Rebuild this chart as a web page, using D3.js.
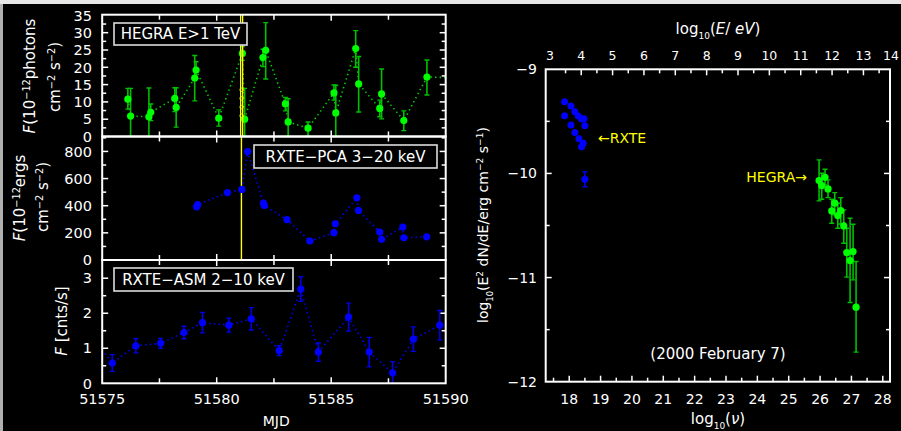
<!DOCTYPE html>
<html><head><meta charset="utf-8">
<script src="https://cdn.jsdelivr.net/npm/d3@7"></script>
<style>
html,body{margin:0;padding:0;background:#000;}
svg{display:block;}
text{font-family:"DejaVu Sans",sans-serif;fill:#fff;}
</style></head>
<body>
<script>
// ---------------- DATA ----------------
const mjdTicks = [51575, 51580, 51585, 51590];
// HEGRA E>1 TeV light curve
const hegraMJD = [51576.12, 51576.24, 51577.04, 51577.12, 51578.17, 51578.23, 51579.04, 51579.10, 51580.09, 51581.12, 51581.22, 51582.02, 51582.14, 51583.00, 51583.12, 51583.99, 51585.12, 51585.20, 51586.07, 51586.20, 51587.12, 51587.20, 51588.17, 51589.18, 51590.40];
const hegraF   = [10.8, 5.9, 5.7, 7.0, 11.0, 8.4, 16.9, 19.2, 5.3, 24.0, 5.0, 22.8, 24.9, 9.4, 4.2, 2.4, 12.6, 6.8, 25.4, 15.2, 8.1, 12.3, 4.6, 17.2, 17.0];
const hegraLo  = [7.9, 0, 0, 4.6, 7.2, 2.7, 10.3, 16.8, 3.0, 22.0, 0, 20.2, 16.6, 7.4, 0, 0.1, 10.5, 0, 20.0, 7.1, 5.7, 5.1, 1.7, 12.0, 14.0];
const hegraHi  = [13.9, 13.9, 14.0, 9.4, 14.1, 14.1, 23.4, 21.6, 7.7, 26.0, 13.9, 25.2, 32.9, 11.3, 10.9, 4.2, 14.9, 14.8, 30.6, 23.1, 10.5, 19.5, 7.4, 22.1, 20.0];
const hegraYTicks = [0, 5, 10, 15, 20, 25, 30, 35];
// RXTE-PCA 3-20 keV light curve
const pcaMJD = [51579.12, 51579.17, 51580.47, 51581.10, 51581.35, 51582.04, 51582.08, 51583.07, 51584.07, 51585.12, 51585.18, 51586.12, 51586.19, 51587.12, 51587.20, 51588.13, 51588.17, 51589.17];
const pcaF   = [392, 408, 497, 520, 799, 419, 402, 297, 140, 201, 267, 458, 365, 206, 152, 243, 164, 171];
const pcaYTicks = [0, 200, 400, 600, 800];
// RXTE-ASM 2-10 keV light curve
const asmMJD = [51574.50, 51575.44, 51576.47, 51577.55, 51578.57, 51579.38, 51580.53, 51581.51, 51582.73, 51583.67, 51584.44, 51585.76, 51586.66, 51587.68, 51588.59, 51589.74];
const asmF   = [1.37, 0.58, 1.07, 1.14, 1.45, 1.73, 1.66, 1.84, 0.93, 2.69, 0.89, 1.89, 0.89, 0.30, 1.26, 1.66];
const asmErr = [0.20, 0.24, 0.20, 0.14, 0.18, 0.29, 0.20, 0.32, 0.14, 0.35, 0.26, 0.40, 0.42, 0.32, 0.35, 0.42];
const asmYTicks = [0, 1, 2, 3];
// flare marker (MJD)
const flareMJD = 51581.08;
// Spectral energy distribution (2000 February 7)
const rxteNu   = [17.853, 18.054, 18.180, 18.287, 18.395, 18.470, 17.853, 18.054, 18.180, 18.310, 18.395, 18.447, 18.500, 18.500];
const rxteSed  = [-9.311, -9.352, -9.407, -9.448, -9.477, -9.474, -9.445, -9.535, -9.608, -9.666, -9.743, -9.710, -9.541, -10.056];
const rxteSedErr = [0, 0, 0, 0, 0, 0, 0, 0, 0, 0, 0, 0, 0, 0.072];
const hegraNu  = [25.968, 26.053, 26.158, 26.254, 26.372, 26.468, 26.564, 26.660, 26.755, 26.851, 26.957, 27.052, 27.148];
const hegraSed = [-10.069, -10.117, -10.037, -10.149, -10.360, -10.286, -10.405, -10.357, -10.504, -10.760, -10.837, -10.750, -11.284];
const hegraSedLo = [-10.264, -10.248, -10.110, -10.232, -10.478, -10.398, -10.526, -10.485, -10.670, -10.996, -11.240, -11.022, -11.716];
const hegraSedHi = [-9.870, -9.998, -9.960, -10.062, -10.248, -10.184, -10.286, -10.232, -10.350, -10.526, -10.430, -10.488, -10.846];
const nuTicks = [18, 19, 20, 21, 22, 23, 24, 25, 26, 27, 28];
const eTicks  = [3, 4, 5, 6, 7, 8, 9, 10, 11, 12, 13, 14];
const sedYTicks = [-9, -10, -11, -12];
const logH = 14.383; // log10(nu) - log10(E/eV)

// ---------------- COLOURS ----------------
const GREEN = "#00ff00", GREEN_ERR = "#00c000", GREEN_LINE = "#00d000";
const BLUE = "#0000ff", BLUE_ERR = "#0000e6";
const YELLOW = "#ffff00";

const W = 901, H = 431;
const svg = d3.select("body").append("svg").attr("width", W).attr("height", H);
svg.append("rect").attr("width", W).attr("height", H).attr("fill", "#000");
svg.append("rect").attr("x", 0).attr("y", 0).attr("width", W).attr("height", 4).attr("fill", "#e6e6e6");
svg.append("rect").attr("x", 0).attr("y", 4).attr("width", 3).attr("height", H - 4).attr("fill", "#b0b0b0");

const defs = svg.append("defs");

// ---------------- LEFT PANELS ----------------
const LX0 = 102.2, LX1 = 445.7;
const xM = d3.scaleLinear().domain([51575, 51590]).range([LX0, LX1]);
const mjdMinor = d3.range(51575, 51590.01, 2.5);

const panels = [
  {id: "p1", y0: 14.7, y1: 136.5, dom: [0, 35.2], major: hegraYTicks, minorStep: 2.5},
  {id: "p2", y0: 136.5, y1: 260, dom: [0, 910], major: pcaYTicks, minorStep: 100},
  {id: "p3", y0: 260, y1: 383.3, dom: [0, 3.52], major: asmYTicks, minorStep: 0.5}
];
panels.forEach(p => {
  p.y = d3.scaleLinear().domain(p.dom).range([p.y1, p.y0]);
  defs.append("clipPath").attr("id", "clip-" + p.id).append("rect")
    .attr("x", LX0).attr("y", p.y0).attr("width", LX1 - LX0).attr("height", p.y1 - p.y0);
});

function drawPanelAxes(p, showX) {
  const g = svg.append("g");
  const minor = d3.range(p.dom[0], p.dom[1] + 1e-9, p.minorStep);
  minor.forEach(v => {
    const isMaj = p.major.some(m => Math.abs(m - v) < 1e-9);
    const L = isMaj ? 6 : 4;
    const yy = p.y(v);
    if (yy < p.y0 + 1 || yy > p.y1 - 1) return;
    g.append("line").attr("x1", LX0).attr("x2", LX0 + L).attr("y1", yy).attr("y2", yy).attr("stroke", "#fff").attr("stroke-width", 1.5);
    g.append("line").attr("x1", LX1).attr("x2", LX1 - L).attr("y1", yy).attr("y2", yy).attr("stroke", "#fff").attr("stroke-width", 1.5);
  });
  mjdMinor.forEach(v => {
    const xx = xM(v);
    if (xx < LX0 + 1 || xx > LX1 - 1) return;
    const L = (v % 5 === 0) ? 6 : 5;
    g.append("line").attr("x1", xx).attr("x2", xx).attr("y1", p.y0).attr("y2", p.y0 + L).attr("stroke", "#fff").attr("stroke-width", 1.5);
    g.append("line").attr("x1", xx).attr("x2", xx).attr("y1", p.y1).attr("y2", p.y1 - L).attr("stroke", "#fff").attr("stroke-width", 1.5);
  });
  p.major.forEach(v => {
    g.append("text").attr("x", 92).attr("y", p.y(v)).attr("dy", "0.36em")
      .attr("text-anchor", "end").attr("font-size", 14.5).text(v);
  });
  if (showX) {
    mjdTicks.forEach(v => {
      g.append("text").attr("x", xM(v)).attr("y", 404).attr("text-anchor", "middle")
        .attr("font-size", 14.5).text(v);
    });
  }
}
panels.forEach((p, i) => drawPanelAxes(p, i === 2));

function legendBox(x, y, w, h, label) {
  const g = svg.append("g");
  g.append("rect").attr("x", x).attr("y", y).attr("width", w).attr("height", h)
    .attr("fill", "#000").attr("stroke", "#ddd").attr("stroke-width", 1.6);
  g.append("text").attr("x", x + w / 2).attr("y", y + h / 2).attr("dy", "0.36em")
    .attr("text-anchor", "middle").attr("font-size", 15).text(label);
}

function errBars(g, xs, lo, hi, col, yScale, xScale, cap) {
  xs.forEach((xv, i) => {
    if (hi[i] === lo[i]) return;
    const X = xScale(xv), Y1 = yScale(lo[i]), Y2 = yScale(hi[i]);
    g.append("line").attr("x1", X).attr("x2", X).attr("y1", Y1).attr("y2", Y2).attr("stroke", col).attr("stroke-width", 1.6);
    g.append("line").attr("x1", X - cap).attr("x2", X + cap).attr("y1", Y1).attr("y2", Y1).attr("stroke", col).attr("stroke-width", 1.4);
    g.append("line").attr("x1", X - cap).attr("x2", X + cap).attr("y1", Y2).attr("y2", Y2).attr("stroke", col).attr("stroke-width", 1.4);
  });
}

function dotted(g, xs, ys, col, xScale, yScale) {
  const line = d3.line().x(d => xScale(d[0])).y(d => yScale(d[1]));
  g.append("path").attr("d", line(xs.map((x, i) => [x, ys[i]])))
    .attr("fill", "none").attr("stroke", col).attr("stroke-width", 1.6)
    .attr("stroke-dasharray", "1.4,3.2").attr("stroke-linecap", "butt");
}
function points(g, xs, ys, col, xScale, yScale, r) {
  g.selectAll(null).data(xs.map((x, i) => [x, ys[i]])).enter().append("circle")
    .attr("cx", d => xScale(d[0])).attr("cy", d => yScale(d[1])).attr("r", r).attr("fill", col);
}

// panel 1: HEGRA
{
  const p = panels[0];
  const g = svg.append("g").attr("clip-path", "url(#clip-p1)");
  dotted(g, hegraMJD, hegraF, GREEN_LINE, xM, p.y);
  errBars(g, hegraMJD, hegraLo, hegraHi, GREEN_ERR, p.y, xM, 2.5);
  points(g, hegraMJD, hegraF, GREEN, xM, p.y, 3.6);
  // flare marker
  g.append("line").attr("x1", xM(flareMJD) - 0.8).attr("x2", xM(flareMJD) - 0.8).attr("y1", p.y0).attr("y2", p.y1).attr("stroke", YELLOW).attr("stroke-width", 1.3);
  g.append("line").attr("x1", xM(flareMJD) + 1.2).attr("x2", xM(flareMJD) + 1.2).attr("y1", p.y0).attr("y2", p.y1).attr("stroke", YELLOW).attr("stroke-width", 1.3);
  [6, 8.5, 11, 13.5].forEach(fr => {
    g.append("circle").attr("cx", xM(flareMJD) + 0.2).attr("cy", p.y(fr)).attr("r", 1.8)
      .attr("fill", "none").attr("stroke", YELLOW).attr("stroke-width", 0.8);
  });
  legendBox(114, 23, 133, 22, "HEGRA E>1 TeV");
}
// panel 2: PCA
{
  const p = panels[1];
  const g = svg.append("g").attr("clip-path", "url(#clip-p2)");
  g.append("line").attr("x1", xM(flareMJD)).attr("x2", xM(flareMJD)).attr("y1", p.y0).attr("y2", p.y1).attr("stroke", YELLOW).attr("stroke-width", 1.4);
  dotted(g, pcaMJD, pcaF, BLUE, xM, p.y);
  points(g, pcaMJD, pcaF, BLUE, xM, p.y, 3.6);
  legendBox(254, 145, 183, 23, "RXTE\u2212PCA 3\u221220 keV");
}
// panel 3: ASM
{
  const p = panels[2];
  const g = svg.append("g").attr("clip-path", "url(#clip-p3)");
  dotted(g, asmMJD, asmF, BLUE, xM, p.y);
  errBars(g, asmMJD, asmF.map((v, i) => v - asmErr[i]), asmF.map((v, i) => v + asmErr[i]), BLUE_ERR, p.y, xM, 2.5);
  points(g, asmMJD, asmF, BLUE, xM, p.y, 3.6);
  legendBox(114, 268, 179, 23, "RXTE\u2212ASM 2\u221210 keV");
}
// frames
panels.forEach(p => {
  svg.append("rect").attr("x", LX0).attr("y", p.y0).attr("width", LX1 - LX0).attr("height", p.y1 - p.y0)
    .attr("fill", "none").attr("stroke", "#fff").attr("stroke-width", 2);
});

// left axis titles
function rotText(x, y, size) {
  return svg.append("text").attr("transform", `translate(${x},${y}) rotate(-90)`)
    .attr("text-anchor", "middle").attr("font-size", size);
}
function sup(t, s) { t.append("tspan").attr("baseline-shift", "super").attr("font-size", "0.65em").text(s); }
{
  let t = rotText(35, 76, 15);
  t.append("tspan").attr("font-style", "italic").text("F");
  t.append("tspan").text("(10");
  sup(t, "\u221212");
  t.append("tspan").text("photons");
  t = rotText(60, 77, 15);
  t.append("tspan").text("cm");
  sup(t, "\u22122");
  t.append("tspan").text(" s");
  sup(t, "\u22122");
  t.append("tspan").text(")");

  t = rotText(25, 198, 15);
  t.append("tspan").attr("font-style", "italic").text("F");
  t.append("tspan").text("(10");
  sup(t, "\u221212");
  t.append("tspan").text("ergs");
  t = rotText(48, 197, 15);
  t.append("tspan").text("cm");
  sup(t, "\u22122");
  t.append("tspan").text(" s");
  sup(t, "\u22122");
  t.append("tspan").text(")");

  t = rotText(67, 321, 15);
  t.append("tspan").attr("font-style", "italic").text("F");
  t.append("tspan").text(" [cnts/s]");
}
svg.append("text").attr("x", xM(51582.6)).attr("y", 426).attr("text-anchor", "middle").attr("font-size", 14).text("MJD");

// ---------------- RIGHT PANEL ----------------
const RX0 = 545.7, RX1 = 890, RY0 = 69.3, RY1 = 381.7;
const xNu = d3.scaleLinear().domain([17.25, 28.23]).range([RX0, RX1]);
const xE = d3.scaleLinear().domain([17.25 - logH, 28.23 - logH]).range([RX0, RX1]);
const ySed = d3.scaleLinear().domain([-12, -9]).range([RY1, RY0]);
defs.append("clipPath").attr("id", "clip-sed").append("rect")
  .attr("x", RX0).attr("y", RY0).attr("width", RX1 - RX0).attr("height", RY1 - RY0);

{
  const g = svg.append("g");
  d3.range(17.5, 28.01, 0.5).forEach(v => {
    const X = xNu(v); const L = Number.isInteger(v) ? 6 : 4;
    g.append("line").attr("x1", X).attr("x2", X).attr("y1", RY1).attr("y2", RY1 - L).attr("stroke", "#fff").attr("stroke-width", 1.5);
  });
  d3.range(3.5, 13.51, 0.5).forEach(v => {
    const X = xE(v); const L = Number.isInteger(v) ? 6 : 4;
    g.append("line").attr("x1", X).attr("x2", X).attr("y1", RY0).attr("y2", RY0 + L).attr("stroke", "#fff").attr("stroke-width", 1.5);
  });
  d3.range(-11.5, -9.01, 0.5).forEach(v => {
    const Y = ySed(v); const L = Number.isInteger(v) ? 6 : 4;
    g.append("line").attr("x1", RX0).attr("x2", RX0 + L).attr("y1", Y).attr("y2", Y).attr("stroke", "#fff").attr("stroke-width", 1.5);
    g.append("line").attr("x1", RX1).attr("x2", RX1 - L).attr("y1", Y).attr("y2", Y).attr("stroke", "#fff").attr("stroke-width", 1.5);
  });
  nuTicks.forEach(v => g.append("text").attr("x", xNu(v)).attr("y", 404).attr("text-anchor", "middle").attr("font-size", 14).text(v));
  eTicks.forEach(v => g.append("text").attr("x", Math.min(xE(v), 891)).attr("y", 60).attr("text-anchor", "middle").attr("font-size", 12.5).text(v));
  sedYTicks.forEach(v => g.append("text").attr("x", 537).attr("y", ySed(v)).attr("dy", "0.36em").attr("text-anchor", "end").attr("font-size", 14).text(String(v).replace("-", "\u2212")));
}

{
  const g = svg.append("g").attr("clip-path", "url(#clip-sed)");
  errBars(g, rxteNu, rxteSed.map((v, i) => v - rxteSedErr[i]), rxteSed.map((v, i) => v + rxteSedErr[i]), BLUE_ERR, ySed, xNu, 2.5);
  points(g, rxteNu, rxteSed, BLUE, xNu, ySed, 3.5);
  errBars(g, hegraNu, hegraSedLo, hegraSedHi, GREEN_ERR, ySed, xNu, 2.5);
  points(g, hegraNu, hegraSed, GREEN, xNu, ySed, 3.6);
}
svg.append("rect").attr("x", RX0).attr("y", RY0).attr("width", RX1 - RX0).attr("height", RY1 - RY0)
  .attr("fill", "none").attr("stroke", "#fff").attr("stroke-width", 2);

svg.append("text").attr("x", 598).attr("y", 138).attr("dy", "0.36em").attr("font-size", 14)
  .style("fill", YELLOW).text("\u2190RXTE");
svg.append("text").attr("x", 807).attr("y", 177).attr("dy", "0.36em").attr("text-anchor", "end").attr("font-size", 14)
  .style("fill", YELLOW).text("HEGRA\u2192");
svg.append("text").attr("x", 718).attr("y", 354).attr("dy", "0.36em").attr("text-anchor", "middle").attr("font-size", 15)
  .text("(2000 February 7)");

{
  let t = svg.append("text").attr("x", 718).attr("y", 34).attr("text-anchor", "middle").attr("font-size", 15);
  t.append("tspan").text("log");
  t.append("tspan").attr("baseline-shift", "sub").attr("font-size", "0.6em").text("10");
  t.append("tspan").text("(");
  t.append("tspan").attr("font-style", "italic").text("E");
  t.append("tspan").text("/ ");
  t.append("tspan").attr("font-style", "italic").text("eV");
  t.append("tspan").text(")");

  t = svg.append("text").attr("x", 718).attr("y", 424).attr("text-anchor", "middle").attr("font-size", 15);
  t.append("tspan").text("log");
  t.append("tspan").attr("baseline-shift", "sub").attr("font-size", "0.6em").text("10");
  t.append("tspan").text("(");
  t.append("tspan").attr("font-style", "italic").text("\u03bd");
  t.append("tspan").text(")");

  t = svg.append("text").attr("transform", "translate(488,225) rotate(-90)").attr("text-anchor", "middle").attr("font-size", 14);
  t.append("tspan").text("log");
  t.append("tspan").attr("baseline-shift", "sub").attr("font-size", "0.6em").text("10");
  t.append("tspan").text("(E");
  t.append("tspan").attr("baseline-shift", "super").attr("font-size", "0.65em").text("2");
  t.append("tspan").text(" dN/dE/erg cm");
  t.append("tspan").attr("baseline-shift", "super").attr("font-size", "0.65em").text("\u22122");
  t.append("tspan").text(" s");
  t.append("tspan").attr("baseline-shift", "super").attr("font-size", "0.65em").text("\u22121");
  t.append("tspan").text(")");
}
</script>
</body></html>
